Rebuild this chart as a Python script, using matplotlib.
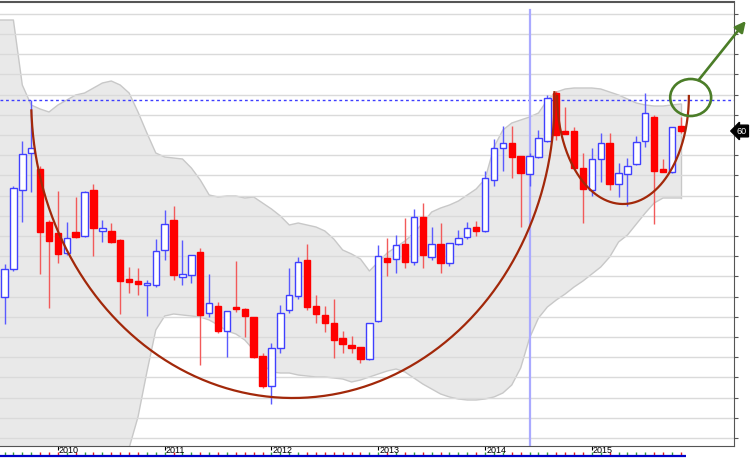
import numpy as np
import pandas as pd
import matplotlib
matplotlib.use("Agg")
import matplotlib.pyplot as plt
from matplotlib.patches import Ellipse, Rectangle
from matplotlib.transforms import blended_transform_factory

# monthly candles, Jul 2009 .. Nov 2015
months = pd.date_range("2009-07-01", periods=77, freq="MS")

opens = [43.8, 46.6, 54.5, 58.2, 56.6, 51.3, 50.2, 48.2, 50.3, 49.9,
         54.5, 50.4, 50.4, 49.5, 45.6, 45.4, 45.0, 45.0, 48.5, 51.5,
         45.8, 46.0, 48.3, 42.2, 42.9, 40.4, 42.8, 42.6, 41.8, 37.9,
         34.9, 38.7, 42.5, 43.9, 47.5, 42.9, 42.0, 41.2, 39.7, 39.0,
         38.8, 37.6, 41.4, 47.7, 47.6, 49.1, 47.3, 51.8, 47.8, 49.1,
         47.2, 49.1, 49.8, 50.8, 50.4, 55.5, 58.7, 59.2, 57.9, 56.1,
         57.8, 59.4, 64.2, 60.4, 60.4, 56.7, 54.5, 57.6, 59.2, 55.1,
         56.1, 57.1, 59.4, 61.8, 56.6, 56.3, 60.9]
highs = [47.1, 54.9, 59.4, 63.5, 56.9, 51.5, 54.4, 51.3, 53.8, 54.4,
         55.1, 51.5, 51.2, 49.6, 46.8, 46.7, 45.5, 49.6, 52.5, 52.9,
         49.5, 48.0, 48.7, 46.1, 43.3, 42.4, 47.4, 42.7, 41.8, 38.2,
         39.2, 43.0, 46.7, 47.8, 49.1, 44.0, 42.9, 43.6, 40.4, 39.9,
         38.8, 41.2, 49.0, 49.7, 50.0, 51.7, 52.6, 53.2, 50.8, 51.2,
         49.2, 50.5, 51.3, 51.4, 56.4, 59.6, 60.9, 60.9, 57.9, 58.2,
         60.5, 64.0, 64.4, 62.8, 60.8, 58.2, 58.7, 60.2, 60.2, 57.2,
         57.7, 59.9, 64.2, 62.0, 57.6, 60.8, 61.8]
lows = [41.1, 46.4, 51.3, 54.3, 46.1, 42.7, 47.2, 48.0, 49.7, 49.8,
        47.9, 49.3, 49.2, 42.1, 44.2, 44.0, 41.9, 44.8, 47.5, 45.5,
        45.0, 45.2, 37.0, 41.8, 40.2, 37.8, 42.3, 39.8, 37.7, 34.7,
        33.1, 38.2, 42.2, 43.6, 42.5, 41.2, 40.3, 37.7, 38.2, 38.2,
        37.2, 37.5, 41.3, 45.9, 46.2, 46.7, 47.0, 46.7, 47.5, 46.2,
        46.9, 49.0, 49.6, 49.9, 50.3, 54.9, 56.4, 55.7, 50.8, 54.9,
        57.7, 59.3, 59.5, 60.1, 56.7, 51.2, 53.9, 55.3, 54.5, 53.8,
        52.9, 57.0, 58.8, 51.1, 56.3, 56.2, 60.2]
closes = [46.6, 54.7, 58.1, 58.7, 50.3, 49.4, 48.1, 49.7, 49.8, 54.3,
          50.7, 50.7, 49.3, 45.4, 45.3, 45.1, 45.2, 48.4, 51.1, 46.0,
          46.1, 48.0, 42.0, 43.2, 40.4, 42.4, 42.6, 41.9, 37.8, 34.9,
          38.7, 42.2, 44.0, 47.3, 42.8, 42.1, 41.2, 39.5, 39.1, 38.7,
          37.6, 41.2, 47.9, 47.3, 49.0, 47.3, 51.8, 48.0, 49.1, 47.2,
          49.2, 49.7, 50.7, 50.4, 55.7, 58.7, 59.2, 57.8, 56.2, 57.9,
          59.7, 63.7, 60.0, 60.1, 56.7, 54.6, 57.6, 59.2, 55.1, 56.2,
          56.9, 59.3, 62.2, 56.4, 56.3, 60.8, 60.4]

# envelope, starts one month earlier (Jun 2009)
band_upper = [71.5, 71.5, 71.5, 65.0, 63.0, 62.6, 62.3, 63.0, 63.5, 64.0,
              64.2, 64.7, 65.2, 65.4, 65.0, 64.2, 62.3, 60.2, 58.2, 57.8,
              57.7, 57.6, 56.7, 55.5, 54.0, 53.8, 53.9, 53.9, 53.7, 53.8,
              53.2, 52.6, 51.9, 51.0, 51.2, 51.0, 50.8, 50.4, 49.6, 48.5,
              48.1, 47.6, 46.4, 47.3, 48.2, 48.8, 49.4, 50.2, 51.2, 52.3,
              52.7, 53.0, 53.4, 54.0, 54.6, 55.6, 58.8, 60.5, 61.2, 61.5,
              61.8, 62.2, 63.5, 64.3, 64.6, 64.7, 64.7, 64.7, 64.6, 64.3,
              64.0, 63.6, 63.2, 63.0, 62.9, 62.9, 63.0, 63.1]
band_lower = [24.0, 24.0, 23.5, 22.0, 21.0, 20.5, 21.0, 22.0, 23.0, 23.5,
              24.0, 24.5, 25.0, 25.3, 25.5, 28.7, 31.8, 36.3, 40.5, 41.9,
              42.1, 42.0, 41.9, 41.8, 41.5, 41.0, 40.4, 40.1, 39.5, 38.5,
              37.1, 36.3, 36.2, 36.2, 36.0, 35.9, 35.8, 35.8, 35.7, 35.6,
              35.3, 35.5, 35.8, 36.1, 36.4, 36.6, 36.3, 35.7, 35.1, 34.6,
              34.1, 33.8, 33.6, 33.5, 33.5, 33.6, 33.8, 34.2, 35.0, 36.7,
              39.7, 41.7, 42.8, 43.5, 44.1, 44.8, 45.4, 46.1, 46.8, 47.8,
              49.3, 50.0, 51.1, 52.2, 53.2, 53.7, 53.7, 53.7]

prev_high = 63.5
marker_month = "2014-06"

# cup and handle drawing: centre (month index, price) and radii
cup_center, cup_radius = (32.4, 63.5), (29.4, 29.8)
handle_center, handle_radius = (69.5, 63.9), (7.4, 10.8)
target_center, target_size = (77.1, 63.75), (4.6, 3.7)
arrow_from, arrow_to = (78.0, 65.5), (83.3, 71.4)

UP_EDGE = "#4040ff"
UP_WICK = "#5a5aff"
DOWN = "#ff0000"
DOWN_WICK = "#f25a5a"
BROWN = "#a2280a"
GREEN = "#4b7d28"

x = np.arange(len(months))
o, h, l, c = map(np.array, (opens, highs, lows, closes))
up = c >= o

fig = plt.figure(figsize=(7.5, 4.65), dpi=100)
ax = fig.add_axes([0, 1 - 446 / 465, 734 / 750, 444 / 465])
ax.set_xlim(-0.506, 81.97)
ax.set_ylim(28.9, 73.3)

# envelope
band_x = np.arange(-1, len(months))
ax.fill_between(band_x, band_lower, band_upper, color="#e9e9e9", lw=0, zorder=1)
ax.plot(band_x, band_upper, color="#c8c8c8", lw=1, zorder=1.2)
ax.plot(band_x, band_lower, color="#c8c8c8", lw=1, zorder=1.2)
ax.plot([band_x[-1], band_x[-1]], [band_lower[-1], band_upper[-1]],
        color="#c8c8c8", lw=1, zorder=1.2)

grid_levels = 60 + 2.02 * np.arange(-15, 7)
for g in grid_levels:
    ax.axhline(g, color="#dadada", lw=1, zorder=1.5)

ax.axhline(prev_high, color="#3c3cff", lw=1, ls=(0, (2, 2)), zorder=2)
mi = months.get_loc(pd.Timestamp(marker_month))
ax.axvline(mi, ymax=(446 - 10) / 444, color="#aaaaff", lw=1.6, zorder=2)

# candles
w = 0.72
for i in x:
    if up[i]:
        ax.vlines(i, l[i], h[i], color=UP_WICK, lw=1, zorder=3)
        ax.add_patch(Rectangle((i - w / 2, o[i]), w, c[i] - o[i], fc="white",
                               ec=UP_EDGE, lw=1, zorder=4))
    else:
        ax.vlines(i, l[i], h[i], color=DOWN_WICK, lw=1, zorder=3)
        ax.add_patch(Rectangle((i - w / 2, c[i]), w, o[i] - c[i], fc=DOWN,
                               ec=DOWN, lw=1, zorder=4))

# cup + handle
t = np.linspace(np.radians(-1.5), np.radians(178), 300)
ax.plot(cup_center[0] + cup_radius[0] * np.cos(t), cup_center[1] - cup_radius[1] * np.sin(t),
        color=BROWN, lw=1.6, zorder=5)
t = np.linspace(0, np.pi, 200)
ax.plot(handle_center[0] + handle_radius[0] * np.cos(t),
        handle_center[1] - handle_radius[1] * np.sin(t), color=BROWN, lw=1.6, zorder=5)

ax.add_patch(Ellipse(target_center, *target_size, fill=False, ec=GREEN, lw=1.9, zorder=6))
ax.annotate("", xy=arrow_to, xytext=arrow_from, annotation_clip=False,
            arrowprops=dict(arrowstyle="-|>", color=GREEN, lw=1.9, mutation_scale=16,
                            shrinkA=0, shrinkB=0), zorder=6)

# bottom time scale
tick_cols = np.where(up, "#3a9a3a", "#e02020")
ax.vlines(x, 28.0, 28.3, colors=tick_cols, lw=1, clip_on=False)
ax.plot([-0.5, 76.6], [27.85, 27.85], color="#0000c8", lw=1.6, clip_on=False,
        solid_capstyle="butt")
for i, m in enumerate(months):
    if m.month == 1:
        ax.vlines(i, 28.5, 28.9, color="black", lw=0.8, clip_on=False)
        ax.text(i + 0.12, 28.88, str(m.year), ha="left", va="top", fontsize=6.5,
                family="Liberation Sans", color="black")

# last price marker (cut by the right edge, as in the source chart)
trans = blended_transform_factory(ax.transAxes, ax.transData)
ax.text(1.004, c[-1], f"{c[-1]:.0f}", transform=trans, ha="left", va="center",
        fontsize=6.5, color="white", family="Liberation Sans",
        bbox=dict(boxstyle="larrow,pad=0.15", fc="black", ec="black"))

ax.set_xticks([])
ax.set_yticks(grid_levels)
ax.yaxis.tick_right()
ax.tick_params(axis="y", length=3, color="#555555", labelright=False)
for side in ["top", "right", "bottom"]:
    ax.spines[side].set_color("#555555")
ax.spines["top"].set_linewidth(1.5)
ax.spines["left"].set_visible(False)

fig.savefig("out.png", dpi=100)
